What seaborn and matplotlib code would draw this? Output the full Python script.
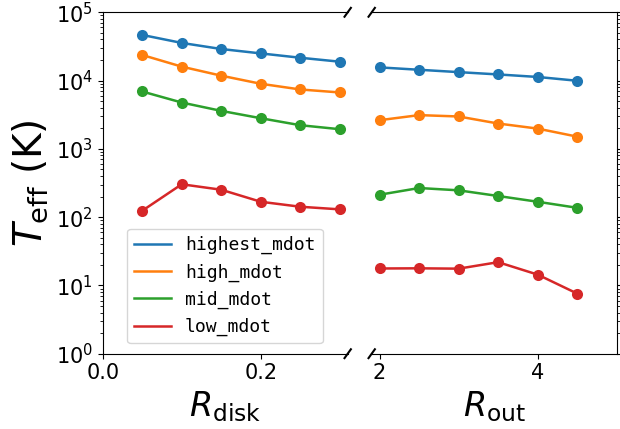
import numpy as np
import pandas as pd
import matplotlib
matplotlib.use("Agg")
import matplotlib.pyplot as plt
from matplotlib.lines import Line2D
import seaborn as sns

# Effective temperature vs. disk radius (left) and outer radius (right)
series = ["highest_mdot", "high_mdot", "mid_mdot", "low_mdot"]
r_disk = [0.05, 0.10, 0.15, 0.20, 0.25, 0.30]
r_out = [2.0, 2.5, 3.0, 3.5, 4.0, 4.5]

teff_rdisk = {
    "highest_mdot": [46600, 35600, 29000, 25000, 21600, 18900],
    "high_mdot": [23700, 16000, 11800, 8980, 7410, 6700],
    "mid_mdot": [6920, 4770, 3600, 2810, 2220, 1940],
    "low_mdot": [124, 303, 252, 168, 142, 130],
}
teff_rout = {
    "highest_mdot": [15600, 14400, 13300, 12300, 11300, 9940],
    "high_mdot": [2630, 3120, 2980, 2350, 1980, 1510],
    "mid_mdot": [213, 267, 247, 204, 168, 137],
    "low_mdot": [17.7, 17.8, 17.6, 21.9, 14.4, 7.6],
}


def long_form(xvals, table):
    rows = []
    for name in series:
        for x, t in zip(xvals, table[name]):
            rows.append({"x": x, "teff": t, "series": name})
    return pd.DataFrame(rows)


df_disk = long_form(r_disk, teff_rdisk)
df_out = long_form(r_out, teff_rout)

palette = dict(zip(series, sns.color_palette("tab10", 4)))

fig = plt.figure(figsize=(6.2, 4.29), dpi=100)
ax1 = fig.add_axes([102.7 / 620, 1 - 353.7 / 429, 245 / 620, 341.4 / 429])
ax2 = fig.add_axes([371.7 / 620, 1 - 353.7 / 429, 245 / 620, 341.4 / 429], sharey=ax1)

line_kw = dict(marker="o", markersize=8, markeredgewidth=0, linewidth=1.8,
               legend=False)
sns.lineplot(data=df_disk, x="x", y="teff", hue="series", hue_order=series,
             palette=palette, ax=ax1, **line_kw)
sns.lineplot(data=df_out, x="x", y="teff", hue="series", hue_order=series,
             palette=palette, ax=ax2, **line_kw)

ax1.set_yscale("log")
ax1.set_ylim(1, 1e5)
ax1.set_xlim(0, 0.31)
ax2.set_xlim(1.9, 5)
ax1.set_xticks([0.0, 0.2])
ax2.set_xticks([2, 4])

# broken-axis styling
ax1.spines["right"].set_visible(False)
ax2.spines["left"].set_visible(False)
ax1.yaxis.tick_left()
ax2.yaxis.tick_right()
ax2.tick_params(axis="y", which="both", labelright=False, labelleft=False)

for ax in (ax1, ax2):
    ax.tick_params(axis="both", which="major", labelsize=15)

d = 0.013
kw = dict(color="k", clip_on=False, linewidth=1.5)
ax1.plot((1 - d, 1 + d), (-d, +d), transform=ax1.transAxes, **kw)
ax1.plot((1 - d, 1 + d), (1 - d, 1 + d), transform=ax1.transAxes, **kw)
ax2.plot((-d, +d), (-d, +d), transform=ax2.transAxes, **kw)
ax2.plot((-d, +d), (1 - d, 1 + d), transform=ax2.transAxes, **kw)

ax1.set_xlabel(r"$R_{\rm disk}$", fontsize=24)
ax2.set_xlabel(r"$R_{\rm out}$", fontsize=24)
ax1.set_ylabel(r"$T_{\rm eff}$ (K)", fontsize=28)
ax2.set_ylabel("")

handles = [Line2D([], [], color=palette[s], linewidth=1.8) for s in series]
ax1.legend(handles, series, loc="lower left", bbox_to_anchor=(0.1, 0.03),
           borderaxespad=0, prop={"family": "DejaVu Sans Mono", "size": 13})

fig.savefig("out.png", dpi=100)
